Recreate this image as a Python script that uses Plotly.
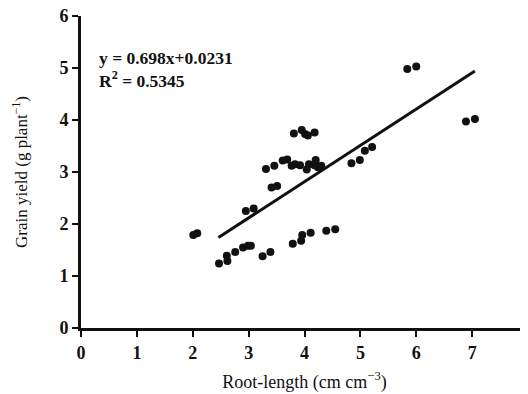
import plotly.graph_objects as go

root_length = [2.01, 2.08, 2.47, 2.62, 2.61, 2.76, 2.90, 2.99, 3.04, 3.25, 3.39,
               3.79, 3.94, 3.96, 4.11, 4.39, 4.55, 2.95, 3.09, 3.41, 3.51,
               3.31, 3.46, 3.61, 3.69, 3.77, 3.83, 3.92, 4.04, 4.08, 4.20, 4.18,
               4.24, 4.30, 3.81, 3.95, 4.01, 4.06, 4.18, 4.84, 4.99, 5.08, 5.21,
               5.84, 6.00, 6.89, 7.05]
grain_yield = [1.79, 1.82, 1.24, 1.29, 1.39, 1.46, 1.55, 1.58, 1.58, 1.38, 1.46,
               1.62, 1.68, 1.79, 1.83, 1.87, 1.90, 2.25, 2.30, 2.70, 2.73,
               3.06, 3.12, 3.22, 3.24, 3.12, 3.15, 3.13, 3.05, 3.15, 3.23, 3.13,
               3.09, 3.12, 3.74, 3.81, 3.73, 3.70, 3.76, 3.17, 3.23, 3.41, 3.48,
               4.98, 5.03, 3.97, 4.02]
slope, intercept = 0.698, 0.0231
fit_x = [2.46, 7.05]
fit_y = [slope * v + intercept for v in fit_x]
x_ticks = [0, 1, 2, 3, 4, 5, 6, 7, 8]
y_ticks = [0, 1, 2, 3, 4, 5, 6]

serif = "Liberation Serif, Times New Roman, serif"

fig = go.Figure()
fig.add_trace(go.Scatter(x=root_length, y=grain_yield, mode="markers",
                         marker=dict(size=8, color="#111111"), showlegend=False,
                         cliponaxis=False))
fig.add_trace(go.Scatter(x=fit_x, y=fit_y, mode="lines",
                         line=dict(color="#111111", width=3), showlegend=False))

axis_common = dict(showgrid=False, zeroline=False, showline=True, linecolor="#111111",
                   linewidth=3, ticks="outside", ticklen=6, tickwidth=2,
                   tickcolor="#111111", automargin=False, ticklabeloverflow="allow",
                   tickfont=dict(family=serif, size=18, color="#111111"))

fig.update_xaxes(range=[0, 8], tickvals=x_ticks,
                 ticktext=["<b>%d</b>" % t for t in x_ticks],
                 title=dict(text="Root-length (cm cm<sup>−3</sup>)",
                            font=dict(family=serif, size=18, color="#111111"),
                            standoff=14),
                 **axis_common)
fig.update_yaxes(range=[0, 6], tickvals=y_ticks,
                 ticktext=["<b>%d</b>" % t for t in y_ticks],
                 title=dict(text="Grain yield (g plant<sup>−1</sup>)",
                            font=dict(family=serif, size=17, color="#111111"),
                            standoff=28),
                 **axis_common)

fig.add_annotation(x=0.035, y=0.905, xref="paper", yref="paper", xanchor="left",
                   yanchor="top", align="left", showarrow=False,
                   text="<b>y = 0.698x+0.0231</b><br><b>R<sup>2</sup> = 0.5345</b>",
                   font=dict(family=serif, size=17.5, color="#111111"))

# page body has an 8px margin, so the figure is 8px smaller than the window
fig.update_layout(width=520, height=386, plot_bgcolor="white", paper_bgcolor="white",
                  margin=dict(l=73, r=0, t=8, b=66))

fig.write_html("out.html")
